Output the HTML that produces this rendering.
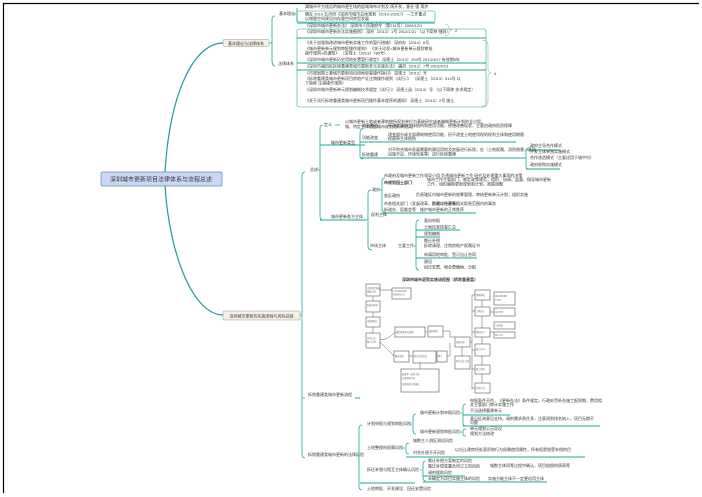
<!DOCTYPE html>
<html><head><meta charset="utf-8"><style>
html,body{margin:0;padding:0;background:#fff;width:702px;height:497px;overflow:hidden}
svg{display:block}
text{font-family:"Liberation Sans","Noto Sans CJK SC",sans-serif;font-size:4px;fill:#333}
.t{stroke:#1aa89a;stroke-width:0.8;fill:none}
.u{stroke:#1aa89a;stroke-width:1;fill:none}
.g{stroke:#999;stroke-width:0.5;fill:none}
.f text{fill:#666}
</style></head><body>
<svg width="702" height="497" viewBox="0 0 702 497" xmlns="http://www.w3.org/2000/svg">
<line x1="3" y1="3.5" x2="699" y2="3.5" stroke="#000" stroke-width="1.2"/>
<line x1="3.5" y1="3" x2="3.5" y2="493" stroke="#000" stroke-width="1.2"/>

<path d="M165 172 C170 90 195 43 223 43" stroke="#1d9aa0" stroke-width="1.2" fill="none"/>
<path d="M165 186 C170 260 195 315 223 315" stroke="#1d9aa0" stroke-width="1.2" fill="none"/>

<rect x="101" y="172" width="121" height="14" rx="1.5" fill="#c9d8f4" stroke="#6b86bb" stroke-width="0.7"/>
<text x="161" y="181.5" text-anchor="middle" style="font-size:6px" fill="#334">深圳城市更新项目法律体系与流程总述</text>

<rect x="223" y="39.5" width="46" height="7" rx="1" fill="#f5f0e6" stroke="#999" stroke-width="0.5"/>
<text x="246" y="44.8" text-anchor="middle">基本理论与法律体系</text>
<path class="t" d="M269 43 H272 M275 16 Q272 16 272 19 V60 Q272 66 275 66"/>
<text x="279" y="15">基本理论</text>
<text x="278" y="65">法律体系</text>
<path class="t" d="M293 14 H296 M297 8 V22"/>
<text x="305" y="8">满城市平方遥远的城市更生场的起城海布计划及 再开发，意业 强 再护</text>
<rect x="297" y="11" width="138" height="11" rx="2" fill="none" stroke="#1aa89a" stroke-width="0.6"/>
<text x="305" y="15.5">随在 2010 五月份《深圳市城市总体规划（2010-2020）》 —工作重点</text>
<text x="305" y="20">以增量空间建设向存量空间转型发展</text>
<path class="u" d="M297 23 H435"/>
<text x="305" y="27">《深圳市城市更新办法》 深圳市人民政府令（第211号）2009/12/1</text>
<rect x="297" y="29" width="189" height="78" rx="2" fill="none" stroke="#1aa89a" stroke-width="0.6"/>
<text x="305" y="33">《深圳市城市更新办法实施细则》 深府〔2012〕1号 2012/1/21 （以下简称 细则）</text>
<path class="u" d="M297 38 H486"/>
<text x="305" y="44">《关于加强和改进城市更新实施工作的暂行措施》 深府办〔2014〕8号</text>
<text x="305" y="50">《城市更新单元规划审批操作规则》 《关于印发&lt;城市更新单元规划审批</text>
<text x="305" y="54.5">操作规则&gt;的通知》 （深规土〔2013〕786号）</text>
<text x="305" y="61">《深圳市城市更新历史用地处置暂行规定》 深规土〔2013〕294号 2013/4/27 有效期5年</text>
<path class="u" d="M297 63 H486"/>
<text x="305" y="67.5">《深圳市福田区拆除重建类城市更新单元实施办法》 福府〔2012〕7号 2012/4/13</text>
<path class="u" d="M297 70 H486"/>
<text x="305" y="74.5">《市规划国土委城市更新项目用地审查操作指引》 深规土〔2012〕号</text>
<text x="305" y="80">《拆除重建类城市更新项目房地产证注销操作规则（试行）》 （深规土〔2013〕314号 以</text>
<text x="305" y="84.5">下简称 注销操作规则）</text>
<text x="305" y="91">《深圳市城市更新单元规划编制技术规定（试行）》 深规土函〔2013〕号 （以下简称 技术规定）</text>
<text x="305" y="102">《关于试行拆除重建类城市更新项目操作基本程序的通知》 深规土〔2010〕2号 废止</text>
<path class="g" d="M445 24 Q449 24 449 28 V29 Q449 30 452 30 Q449 30 449 32 V33 Q449 36 445 36"/>
<text x="455" y="32">2</text>
<path class="g" d="M482 40 Q488 40 488 45 V70 Q488 72 491 73 Q488 74 488 76 V102 Q488 106 482 106"/>
<text x="494" y="75">4</text>

<rect x="223" y="311" width="77" height="9" rx="1" fill="#f5f0e6" stroke="#999" stroke-width="0.5"/>
<text x="261.5" y="317.3" text-anchor="middle">深圳城市更新的实施流程与风险总结</text>
<path class="t" d="M300 315 H302 M305 172 Q302 172 302 176 V454 Q302 458 305 458"/>
<text x="310" y="171">总述</text>
<path class="t" d="M318 170 H320 M323 125 Q320 125 320 128 V216 Q320 220 323 220"/>
<text x="324" y="126">定义</text>
<path class="t" d="M335 125 H340"/>
<text x="345" y="123">以城市更新土地或者建筑物所权利单位为基础研究或者编制更新计划的全过程。</text>
<text x="345" y="128">城、特定主体根据城市规划进行的活动</text>
<path class="u" d="M320 145 H365"/>
<text x="331" y="144">城市更新类型</text>
<path class="t" d="M357 145 H360 M363 129 Q360 129 360 133 V156 Q360 159 363 159"/>
<text x="362" y="127">综合整治</text>
<text x="388" y="127">不改变建筑主体结构和使用功能，修缮改善现状，主要由政府投资保障</text>
<text x="362" y="139">功能改变</text>
<text x="388" y="136">改变部分或全部建筑物使用功能，但不改变土地使用权的权利主体和使用期限</text>
<text x="388" y="140">保留原主体结构</text>
<path class="u" d="M360 142 H516"/>
<text x="362" y="156">拆除重建</text>
<text x="388" y="151">对不符合城市发展需要的建设用地及房屋进行拆除，在（土地权属、消防隐患、基础</text>
<text x="388" y="155.5">设施不足、环境较差等）进行拆除重建</text>
<path class="u" d="M360 158 H524"/>
<path class="t" d="M524 158 H526 M529 148 Q526 148 526 151 V166 Q526 169 529 169"/>
<text x="530" y="147">政府主导合作模式</text>
<path class="u" d="M526 150 H560"/>
<text x="530" y="153">开发主体单独实施模式</text>
<text x="530" y="159">合作改造模式（主要适用于城中村）</text>
<text x="530" y="166">政府收购实施模式</text>
<path class="u" d="M526 169 H560"/>

<path class="u" d="M320 220 H366"/>
<text x="331" y="218">城市更新各方主体</text>
<path class="t" d="M366 220 H368 M371 190 Q368 190 368 194 V246 Q368 250 372 250"/>
<text x="372" y="191">政府</text>
<path class="t" d="M380 190 H382 M385 178 Q382 178 382 181 V209 Q382 212 385 212"/>
<text x="384" y="177">市政府及城市更新工作领导小组 负责城市更新工作 研究及处理重大事项的决策</text>
<text x="384" y="184" style="font-weight:bold">市规划国土部门</text>
<text x="427" y="181">城市工作主管部门，制定政策规范，组织、协调、监督、指导城市更新</text>
<text x="427" y="185.5">工作，组织编制更新规划和计划，政策调整</text>
<text x="384" y="197">各区政府</text>
<text x="416" y="196">负责辖区内城市更新的统筹管理，审核更新单元计划，组织实施</text>
<text x="384" y="205">市各相关部门（发展改革、财政、住建等）</text>
<text x="432" y="205">负责城市更新相关职责范围内的事务</text>
<text x="384" y="211">街道办、居委会等</text>
<text x="420" y="211">维护城市更新的正常秩序</text>
<path class="u" d="M382 213 H476"/>
<text x="371" y="216">权利主体</text>
<text x="370" y="247">市场主体</text>
<text x="398" y="247">主要工作</text>
<path class="t" d="M414 246 H416 M419 220 Q416 220 416 224 V266 Q416 270 419 270"/>
<text x="424" y="222">意向申报</text>
<text x="424" y="228.5">土地信息核查汇总</text>
<path class="u" d="M416 230 H460"/>
<text x="424" y="235">规划编制</text>
<path class="u" d="M416 237 H440"/>
<text x="424" y="242">搬迁补偿</text>
<text x="424" y="247">拆除清理、注销房地产权属证书</text>
<text x="424" y="256">申请用地审批、签订出让合同</text>
<path class="u" d="M416 258 H477"/>
<text x="424" y="263">建设</text>
<text x="424" y="268.5">回迁安置、物业费缴纳、分配</text>

<text x="440" y="281" text-anchor="middle" style="font-weight:bold">深圳市城市更新实施流程图（拆除重建类）</text>
<g stroke="#555" stroke-width="0.6" fill="#fff">
<rect x="366" y="284" width="14" height="12"/><rect x="366" y="301" width="14" height="11"/>
<rect x="366" y="317" width="14" height="10"/><rect x="366" y="333" width="14" height="15"/>
<rect x="392" y="288" width="19" height="11"/>
<rect x="395" y="327" width="30" height="10"/><rect x="428" y="326" width="15" height="11"/>
<rect x="394" y="351" width="15" height="11"/><rect x="413" y="351" width="23" height="12"/><rect x="437" y="351" width="10" height="11"/>
<rect x="401" y="369" width="38" height="23"/>
<rect x="455" y="337" width="15" height="10"/><rect x="455" y="356" width="15" height="13"/>
<rect x="475" y="290" width="15" height="10"/><rect x="475" y="307" width="15" height="9"/>
<rect x="475" y="328" width="15" height="9"/><rect x="475" y="344" width="15" height="12"/>
<rect x="475" y="365" width="15" height="9"/><rect x="475" y="383" width="15" height="10"/>
<rect x="494" y="292" width="21" height="13"/><rect x="494" y="308" width="21" height="8"/>
<rect x="494" y="322" width="21" height="7"/><rect x="494" y="332" width="21" height="6"/>
</g>
<g stroke="#555" stroke-width="0.5" fill="none">
<path d="M373 296 V301 M373 312 V317 M373 327 V333 M380 290 H392 M380 340 Q388 340 395 332 M380 342 Q388 350 394 356 M425 332 H428 M409 356 H413 M436 356 H437 M420 363 V369 M443 331 H450 V337 H455 M447 356 H450 V343 M462 347 V356 M470 342 H472 M472 295 V390 M472 295 H475 M472 311 H475 M472 332 H475 M472 350 H475 M472 369 H475 M472 388 H475 M482 300 V307 M482 316 V328 M482 337 V344 M482 356 V365 M482 374 V383 M490 312 H494 M490 332 H494"/>
</g>
<g class="f">
<text transform="translate(367,289) scale(0.55)">主体意愿申报</text>
<text transform="translate(367,292.5) scale(0.55)">更新计划</text>
<text transform="translate(367,306) scale(0.55)">区政府审查</text>
<text transform="translate(367,322) scale(0.55)">市规划国土</text>
<text transform="translate(367,339) scale(0.55)">计划公示</text>
<text transform="translate(367,342.5) scale(0.55)">纳入计划</text>
<text transform="translate(393,292) scale(0.5)">工作流程及材料</text>
<text transform="translate(393,295.5) scale(0.5)">审查意见汇总</text>
<text transform="translate(396,333) scale(0.55)">编制更新单元规划</text>
<text transform="translate(429,332) scale(0.55)">规划审批</text>
<text transform="translate(395,357) scale(0.55)">搬迁补偿</text>
<text transform="translate(414,357) scale(0.55)">签订补偿协议</text>
<text transform="translate(438,357) scale(0.5)">确认</text>
<text transform="translate(402,375) scale(0.55)">形成单一权利主体</text>
<text transform="translate(402,379) scale(0.55)">注销房地产证</text>
<text transform="translate(402,385) scale(0.55)">申请实施主体确认</text>
<text transform="translate(456,343) scale(0.55)">实施主体</text>
<text transform="translate(456,362) scale(0.55)">签订出让合同</text>
<text transform="translate(476,296) scale(0.55)">用地审批</text>
<text transform="translate(476,312) scale(0.55)">土地出让</text>
<text transform="translate(476,333) scale(0.55)">规划许可</text>
<text transform="translate(476,350) scale(0.55)">施工许可</text>
<text transform="translate(476,370) scale(0.55)">竣工验收</text>
<text transform="translate(476,389) scale(0.55)">房地产证</text>
<text transform="translate(495,297) scale(0.5)">建设用地规划</text>
<text transform="translate(495,301) scale(0.5)">许可证</text>
<text transform="translate(495,313) scale(0.5)">出让合同</text>
<text transform="translate(495,326.5) scale(0.5)">工程规划</text>
<text transform="translate(495,336) scale(0.5)">施工许可</text>
</g>

<path class="t" d="M302 398 H305"/>
<text x="308" y="396">拆除重建类城市更新流程</text>
<path class="u" d="M355 398 H360"/>
<text x="308" y="456">拆除重建类城市更新的法律风险</text>
<path class="t" d="M356 456 H358 M362 425 Q359 425 359 429 V486 Q359 490 362 490"/>
<text x="367" y="425">计划申报与规划审批风险</text>
<path class="t" d="M409 424 H412 M416 414 Q413 414 413 417 V430 Q413 434 416 434"/>
<text x="420" y="414">城市更新计划申报风险</text>
<text x="420" y="433">城市更新规划审批风险</text>
<path class="t" d="M460 413 H462 M466 404 Q463 404 463 407 V423 Q463 426 466 426 M460 432 H462 M466 429 Q463 429 463 431 V434 Q463 436 466 436"/>
<text x="470" y="402">申报条件不符，《更新办法》条件规定，行政处罚补办施工报到期，费用相</text>
<text x="470" y="406">关主管部门审计实施工作</text>
<text x="470" y="412">不当选择重建单元</text>
<path class="u" d="M463 415 H510"/>
<text x="470" y="420">意见征询意见支持，调剂需求责任多，注意测到排名纳入，项目无期不</text>
<text x="470" y="424">问题</text>
<path class="u" d="M463 426 H600"/>
<text x="470" y="430">单元规划公示异议</text>
<text x="470" y="435">规划方法修改</text>
<text x="413" y="442">城数主人测区测设风险</text>
<text x="367" y="449">土地整理的权属风险</text>
<path class="t" d="M402 448 H405 M409 443 Q406 443 406 446 V451 Q406 454 409 454"/>
<text x="413" y="454">村合社规不开风险</text>
<text x="455" y="451">以出让建房所处面积和行为权属使用属性，所有权是指受补偿的目</text>
<path class="u" d="M406 457 H585"/>
<text x="367" y="471">拆迁补偿与相互主体确认风险</text>
<path class="t" d="M420 470 H422 M426 461 Q423 461 423 464 V478 Q423 481 426 481"/>
<text x="428" y="462">搬迁补偿方案制定的风险</text>
<text x="428" y="467.5">搬迁补偿签署合同订立的风险</text>
<text x="490" y="467">城数主体同等过程中确认，项目赔偿的债责等</text>
<text x="428" y="474">调剂援助风险</text>
<path class="u" d="M423 476 H465"/>
<text x="428" y="480">未确定为项目实施主体的风险</text>
<text x="488" y="480">实施方能主体不一定更适用主体</text>
<path class="u" d="M360 483 H415 M423 482 H547"/>
<text x="367" y="490">土地审批、开发建设、回迁安置风险</text>
</svg>
</body></html>
